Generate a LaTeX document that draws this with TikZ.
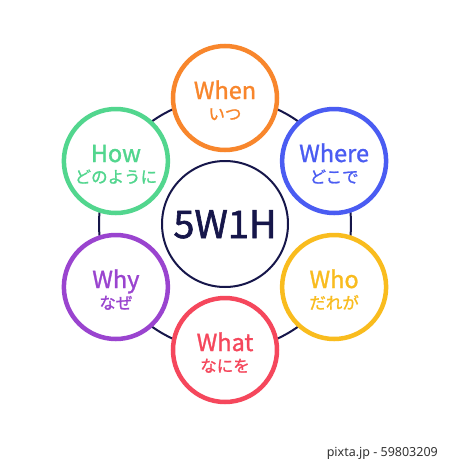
\documentclass[tikz,border=0pt]{standalone}
\usepackage{fontspec}
\usetikzlibrary{calc}
\setmainfont{Noto Sans CJK JP}
\newfontfamily\medfont[FakeBold=1.2]{Noto Sans CJK JP}
\newfontfamily\hubfont[FakeBold=1.6]{Noto Sans CJK JP}
\newfontfamily\wmfont{Noto Sans}
\definecolor{navy}{HTML}{16164A}
\definecolor{cwhen}{HTML}{F8862C}
\definecolor{cwhere}{HTML}{4A5CF2}
\definecolor{cwho}{HTML}{F9BC1E}
\definecolor{cwhat}{HTML}{F5475C}
\definecolor{cwhy}{HTML}{9A44CF}
\definecolor{chow}{HTML}{52D68E}
\tikzset{
  ringline/.style={draw=navy,line width=2pt},
  hubcircle/.style={circle,draw=navy,line width=2pt,fill=white,minimum size=126pt,inner sep=0pt},
  wcircle/.style={circle,line width=4.5pt,fill=white,minimum size=104pt,inner sep=0pt},
  entext/.style={anchor=base,inner sep=0pt,font=\medfont\fontsize{23.5}{23.5}\selectfont},
  jptext/.style={anchor=base,inner sep=0pt,font=\medfont\fontsize{16.5}{16.5}\selectfont},
}
\begin{document}
\begin{tikzpicture}[x=1pt,y=-1pt]
\useasboundingbox[fill=white] (0,0) rectangle (450,469);
\coordinate (C) at (225,224);
\draw[ringline] (C) circle[radius=126];
\node[hubcircle] (hub) at (C) {};
\node[anchor=base,inner sep=0pt,text=navy,font=\hubfont\fontsize{38}{38}\selectfont] (hubt) at ([yshift=-14pt]hub.center) {5W1H};
\foreach \nm/\ang/\col/\en/\jp in {when/-90/cwhen/When/いつ, where/-30/cwhere/Where/どこで, who/30/cwho/Who/だれが, what/90/cwhat/What/なにを, why/150/cwhy/Why/なぜ, how/-150/chow/How/どのように}{
  \node[wcircle,draw=\col] (\nm) at ($(C)+(\ang:126)$) {};
  \node[entext,text=\col] (\nm-en) at ([yshift=-1pt]\nm.center) {\en};
  \node[jptext,text=\col] (\nm-jp) at ([yshift=-22pt]\nm.center) {\jp};
}
\node[anchor=base east,inner sep=0pt,text=black!80,font=\wmfont\fontsize{12.5}{12.5}\selectfont] (wm) at (438,456) {pixta.jp - 59803209};
\end{tikzpicture}
\end{document}
